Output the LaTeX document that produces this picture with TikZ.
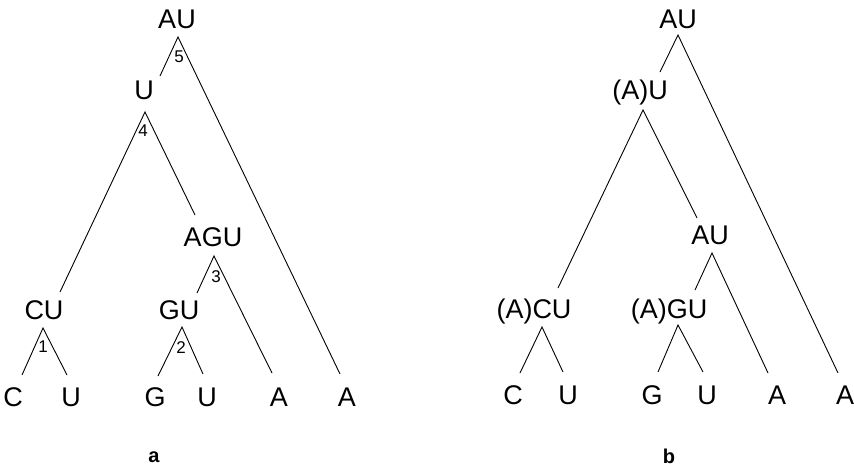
\documentclass[tikz,border=0pt]{standalone}
\usepackage{fontspec}
\setmainfont{Liberation Sans}
\begin{document}
\begin{tikzpicture}[x=1pt,y=-1pt,
  seq/.style={inner sep=0pt,font=\fontsize{27}{27}\selectfont,text height=19pt,text depth=0pt,anchor=center},
  stepno/.style={inner sep=0pt,font=\fontsize{17}{17}\selectfont},
  panel/.style={inner sep=0pt,font=\fontsize{20}{20}\selectfont\bfseries},
  branch/.style={line width=0.9pt}]
\useasboundingbox (0,0) rectangle (854,469);

% ---------- tree a ----------
\node[seq] (aAU)  at (177,19)  {AU};
\node[seq] (aU)   at (144,90)  {U};
\node[seq] (aAGU) at (213,237) {AGU};
\node[seq] (aCU)  at (44,310)  {CU};
\node[seq] (aGU)  at (179,310) {GU};
\node[seq] (aC)   at (13,397)  {C};
\node[seq] (aU1)  at (71,397)  {U};
\node[seq] (aG)   at (155,397) {G};
\node[seq] (aU2)  at (207,397) {U};
\node[seq] (aA1)  at (279,397) {A};
\node[seq] (aA2)  at (347,397) {A};

\coordinate (aAU-v)  at (178,37);
\coordinate (aU-v)   at (145,112);
\coordinate (aAGU-v) at (214,256);
\coordinate (aCU-v)  at (43,328);
\coordinate (aGU-v)  at (182,327);

\coordinate (aU-t)   at (160,76);
\coordinate (aA2-t)  at (340,374);
\coordinate (aCU-t)  at (60,292);
\coordinate (aAGU-t) at (195,215);
\coordinate (aGU-t)  at (197,293);
\coordinate (aA1-t)  at (272,373);
\coordinate (aC-t)   at (22,375);
\coordinate (aU1-t)  at (67,375);
\coordinate (aG-t)   at (158,376);
\coordinate (aU2-t)  at (203,374);

\draw[branch] (aU-t) -- (aAU-v) -- (aA2-t);
\draw[branch] (aCU-t) -- (aU-v) -- (aAGU-t);
\draw[branch] (aGU-t) -- (aAGU-v) -- (aA1-t);
\draw[branch] (aC-t) -- (aCU-v) -- (aU1-t);
\draw[branch] (aG-t) -- (aGU-v) -- (aU2-t);

\node[stepno] (n5) at (179,57)  {5};
\node[stepno] (n4) at (143,131) {4};
\node[stepno] (n3) at (216,277) {3};
\node[stepno] (n1) at (43,347)  {1};
\node[stepno] (n2) at (181,348) {2};

\node[panel] (capa) at (154,457) {a};

% ---------- tree b ----------
\node[seq] (bAU)  at (678,19)  {AU};
\node[seq] (bAU1) at (640,90)  {(A)U};
\node[seq] (bAU2) at (710,235) {AU};
\node[seq] (bACU) at (534,309) {(A)CU};
\node[seq] (bAGU) at (669,309) {(A)GU};
\node[seq] (bC)   at (513,395) {C};
\node[seq] (bU1)  at (568,395) {U};
\node[seq] (bG)   at (652,395) {G};
\node[seq] (bU2)  at (707,395) {U};
\node[seq] (bA1)  at (777,395) {A};
\node[seq] (bA2)  at (845,395) {A};

\coordinate (bAU-v)  at (678,35);
\coordinate (bAU1-v) at (643,110);
\coordinate (bAU2-v) at (712,253);
\coordinate (bACU-v) at (542,327);
\coordinate (bAGU-v) at (678,325);

\coordinate (bAU1-t) at (660,72);
\coordinate (bA2-t)  at (838,373);
\coordinate (bACU-t) at (558,288);
\coordinate (bAU2-t) at (697,218);
\coordinate (bAGU-t) at (695,290);
\coordinate (bA1-t)  at (768,373);
\coordinate (bC-t)   at (520,373);
\coordinate (bU1-t)  at (563,372);
\coordinate (bG-t)   at (658,372);
\coordinate (bU2-t)  at (703,372);

\draw[branch] (bAU1-t) -- (bAU-v) -- (bA2-t);
\draw[branch] (bACU-t) -- (bAU1-v) -- (bAU2-t);
\draw[branch] (bAGU-t) -- (bAU2-v) -- (bA1-t);
\draw[branch] (bC-t) -- (bACU-v) -- (bU1-t);
\draw[branch] (bG-t) -- (bAGU-v) -- (bU2-t);

\node[panel] (capb) at (669,456) {b};
\end{tikzpicture}
\end{document}
